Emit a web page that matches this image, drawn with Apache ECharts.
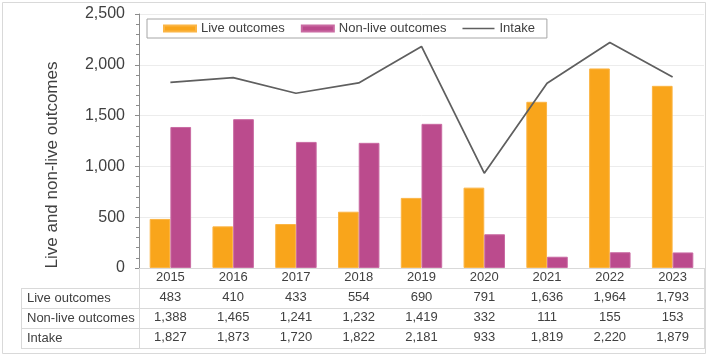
<!DOCTYPE html>
<html>
<head>
<meta charset="utf-8">
<script src="https://cdn.jsdelivr.net/npm/echarts@6/dist/echarts.min.js"></script>
<style>
html,body{margin:0;padding:0;background:#fff;}
#chart{width:708px;height:356px;}
</style>
</head>
<body>
<div id="chart"></div>
<script>
var years = ['2015','2016','2017','2018','2019','2020','2021','2022','2023'];
var liveOutcomes = [483, 410, 433, 554, 690, 791, 1636, 1964, 1793];
var nonLiveOutcomes = [1388, 1465, 1241, 1232, 1419, 332, 111, 155, 153];
var intake = [1827, 1873, 1720, 1822, 2181, 933, 1819, 2220, 1879];
var seriesNames = ['Live outcomes', 'Non-live outcomes', 'Intake'];
var yTitle = 'Live and non-live outcomes';

var FONT = '"Liberation Sans", Arial, sans-serif';
var TXT = '#404040';
var LINE = '#d9d9d9';
function fmt(v){ return v.toLocaleString('en-US'); }

var chart = echarts.init(document.getElementById('chart'));

var W = 708, H = 356;
var gridLeft = 139, gridRight = 4, gridTop = 14, gridBottom = 88;
var axisY = H - gridBottom;      // 268
var rowTops = [axisY + 20, axisY + 40, axisY + 60, axisY + 80];
var tableLeft = 21, tableRight = 705;

var graphics = [];
graphics.push({type:'rect', shape:{x:2.5, y:2.5, width:703, height:351}, style:{fill:'none', stroke:LINE, lineWidth:1}, silent:true});
rowTops.forEach(function(y){
  graphics.push({type:'line', shape:{x1:tableLeft, y1:y+0.5, x2:tableRight, y2:y+0.5}, style:{stroke:LINE, lineWidth:1}, silent:true});
});
graphics.push({type:'line', shape:{x1:tableLeft+0.5, y1:rowTops[0], x2:tableLeft+0.5, y2:rowTops[3]}, style:{stroke:LINE, lineWidth:1}, silent:true});
graphics.push({type:'line', shape:{x1:gridLeft+0.5, y1:axisY, x2:gridLeft+0.5, y2:rowTops[3]}, style:{stroke:LINE, lineWidth:1}, silent:true});
graphics.push({type:'line', shape:{x1:tableRight-0.5, y1:axisY, x2:tableRight-0.5, y2:rowTops[3]}, style:{stroke:LINE, lineWidth:1}, silent:true});
seriesNames.forEach(function(n, i){
  graphics.push({type:'text', x:27, y:rowTops[i] + 10, style:{text:n, fill:TXT, font:'13px ' + FONT, textAlign:'left', textVerticalAlign:'middle'}, silent:true});
});
graphics.push({type:'text', x:52, y:165, rotation:Math.PI/2, style:{text:yTitle, fill:TXT, font:'17px ' + FONT, textAlign:'center', textVerticalAlign:'middle'}, silent:true});

var option = {
  animation: false,
  backgroundColor: '#fff',
  textStyle: {fontFamily: FONT},
  grid: {left: gridLeft, right: gridRight, top: gridTop, bottom: gridBottom, containLabel: false},
  legend: {
    left: 147, top: 19,
    padding: [3, 12, 3, 16],
    itemGap: 16, itemWidth: 32, itemHeight: 6,
    borderColor: '#a6a6a6', borderWidth: 1,
    textStyle: {color: TXT, fontSize: 13, fontFamily: FONT},
    data: [
      {name: seriesNames[0], icon: 'rect'},
      {name: seriesNames[1], icon: 'rect'},
      {name: seriesNames[2], icon: 'path://M0,0 L32,0 L32,1.6 L0,1.6 Z', itemStyle: {color: '#5f5f5f', borderWidth: 0}}
    ]
  },
  xAxis: {
    type: 'category',
    data: years,
    axisLine: {show: true, lineStyle: {color: LINE, width: 1}},
    axisTick: {show: false},
    axisLabel: {
      interval: 0, margin: 0, color: TXT, fontFamily: FONT, fontSize: 13,
      formatter: function(val, idx){
        return '{y|' + val + '}\n{v|' + fmt(liveOutcomes[idx]) + '}\n{v|' + fmt(nonLiveOutcomes[idx]) + '}\n{v|' + fmt(intake[idx]) + '}';
      },
      rich: {
        y: {lineHeight: 19, fontSize: 13, color: TXT, fontFamily: FONT},
        v: {lineHeight: 20, fontSize: 13, color: TXT, fontFamily: FONT}
      }
    }
  },
  yAxis: {
    type: 'value', min: 0, max: 2500, interval: 500,
    axisLine: {show: true, lineStyle: {color: '#8c8c8c', width: 1}},
    axisTick: {show: true, length: 4, lineStyle: {color: '#8c8c8c'}},
    minorTick: {show: true, splitNumber: 5, length: 3, lineStyle: {color: '#8c8c8c'}},
    splitLine: {show: true, lineStyle: {color: '#ececec', width: 1}},
    axisLabel: {color: TXT, fontSize: 16, fontFamily: FONT, margin: 14,
      formatter: function(v){ return fmt(v); }}
  },
  series: [
    {name: seriesNames[0], type: 'bar', data: liveOutcomes, barGap: '0%', barCategoryGap: '34%',
     itemStyle: {color: '#F9A51B', borderColor: '#FBB545', borderWidth: 1}},
    {name: seriesNames[1], type: 'bar', data: nonLiveOutcomes,
     itemStyle: {color: '#BB4B8D', borderColor: '#C96AA2', borderWidth: 1}},
    {name: seriesNames[2], type: 'line', data: intake, symbol: 'none',
     lineStyle: {color: '#5f5f5f', width: 1.75}, itemStyle: {color: '#5f5f5f'}, z: 5}
  ],
  graphic: graphics
};
chart.setOption(option);
</script>
</body>
</html>
